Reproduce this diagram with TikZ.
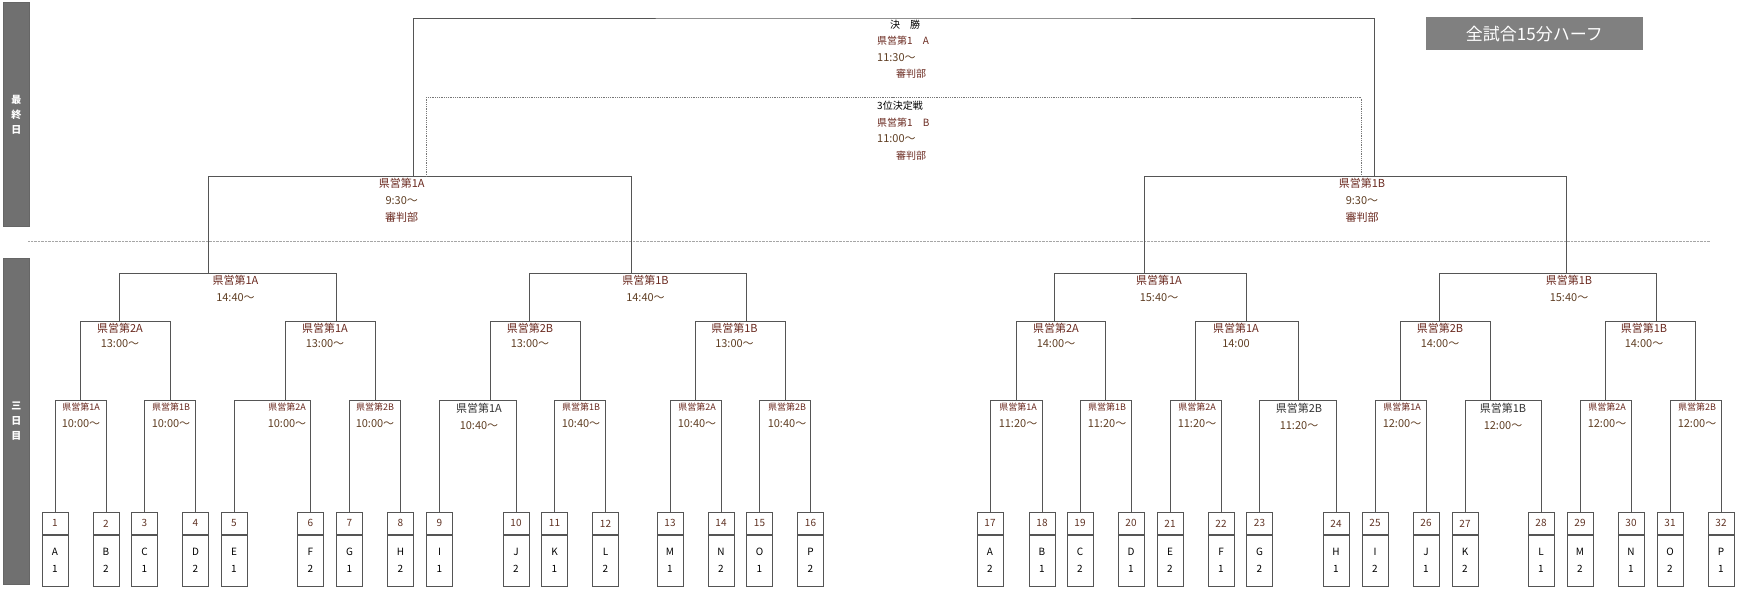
\documentclass[tikz,border=0pt]{standalone}
\usepackage{fontspec}
\setmainfont{Noto Sans CJK JP}
\usepackage{xcolor}
\usepackage{tikz}
\usetikzlibrary{positioning}

\definecolor{wirecol}{RGB}{85,85,85}
\definecolor{lblcol}{RGB}{105,40,30}
\definecolor{timecol}{RGB}{95,62,35}
\definecolor{numcol}{RGB}{95,50,35}
\definecolor{barcol}{RGB}{112,112,112}
\newcommand{\tm}[1]{{\fontsize{11}{17}\selectfont\color{timecol}#1}}

\begin{document}
\begin{tikzpicture}[x=1pt, y=-1pt,
        wire/.style={draw=wirecol, line width=0.8pt},
        third/.style={draw=wirecol!80, line width=0.8pt, densely dotted},
        lbl/.style={inner sep=0pt, anchor=north, align=center, text=lblcol, font=\fontsize{9}{17}\selectfont},
        lblmid/.style={lbl, font=\fontsize{11}{17}\selectfont},
        lblbig/.style={lbl, text=black!80, font=\fontsize{11}{17}\selectfont},
        numbox/.style={draw=wirecol, line width=0.8pt, minimum width=26pt, minimum height=22pt, inner sep=0pt, anchor=north, text=numcol, font=\fontsize{10}{12}\selectfont},
        namebox/.style={draw=wirecol, line width=0.8pt, minimum width=26pt, minimum height=51pt, inner sep=0pt, anchor=north, align=center, font=\fontsize{10}{17}\selectfont},
        sidebar/.style={fill=barcol, draw=black!60, line width=0.8pt, text=white, align=center, anchor=north west, minimum width=26pt, font=\bfseries\fontsize{10}{15}\selectfont}]

        \useasboundingbox (0,0) rectangle (1742,589);

        % day bars
        \node[sidebar, minimum height=224pt] (lastday) at (3,2) {最\\終\\日};
        \node[sidebar, minimum height=326pt] (thirdday) at (3,258) {三\\日\\目};
        \draw[densely dotted, black!35] (28,240.7) -- (1710,240.7);

        \node[fill=black!50, text=white, minimum width=217pt, minimum height=33pt, inner sep=0pt, anchor=north west, font=\fontsize{17}{20}\selectfont] (rule) at (1425.6,17) {全試合15分ハーフ};

        % teams
        \foreach \i/\x/\t/\r in {1/55/A/1, 2/106/B/2, 3/144.5/C/1, 4/195.5/D/2, 5/234/E/1, 6/310.5/F/2, 7/349.5/G/1, 8/400.5/H/2,
                9/439.5/I/1, 10/516/J/2, 11/554.5/K/1, 12/605.5/L/2, 13/670/M/1, 14/721/N/2, 15/759.5/O/1, 16/810.5/P/2,
                17/990/A/2, 18/1042/B/1, 19/1080/C/2, 20/1131/D/1, 21/1170/E/2, 22/1221/F/1, 23/1259.5/G/2, 24/1336/H/1,
                25/1375/I/2, 26/1426/J/1, 27/1465/K/2, 28/1541/L/1, 29/1580/M/2, 30/1631/N/1, 31/1670/O/2, 32/1721/P/1} {
            \node[numbox] (n\i) at (\x,512) {\i};
            \node[namebox] (t\i) at (n\i.south) {\t\\\r};
        }

        % first round
        \foreach \m/\l/\r/\x in {a1/1/2/80, a2/3/4/170.5, a3/5/6/285, a4/7/8/375.5, a5/9/10/490.7, a6/11/12/580, a7/13/14/695.5, a8/15/16/785.5,
                c1/17/18/1016, c2/19/20/1105.7, c3/21/22/1195.7, c4/23/24/1298.3, e1/25/26/1400, e2/27/28/1490, e3/29/30/1605.3, e4/31/32/1695.7} {
            \coordinate (\m) at (\x,400.7);
            \draw[wire] (n\l.north) |- (\m) -| (n\r.north);
        }
        \foreach \m/\x/\nm/\t/\s in {a1/81/県営第1A/10:00～/lbl, a2/171/県営第1B/10:00～/lbl, a3/287/県営第2A/10:00～/lbl, a4/375/県営第2B/10:00～/lbl,
                a5/479/県営第1A/10:40～/lblbig, a6/581/県営第1B/10:40～/lbl, a7/697/県営第2A/10:40～/lbl, a8/787/県営第2B/10:40～/lbl,
                c1/1018/県営第1A/11:20～/lbl, c2/1107/県営第1B/11:20～/lbl, c3/1197/県営第2A/11:20～/lbl, c4/1299/県営第2B/11:20～/lblbig,
                e1/1402/県営第1A/12:00～/lbl, e2/1503/県営第1B/12:00～/lblbig, e3/1607/県営第2A/12:00～/lbl, e4/1697/県営第2B/12:00～/lbl} {
            \node[\s] (l\m) at (\x,403) {\nm\\\tm{\t}};
        }

        % second round
        \foreach \m/\l/\r/\x in {b1/a1/a2/119, b2/a3/a4/336.7, b3/a5/a6/529, b4/a7/a8/746.7,
                d1/c1/c2/1054.3, d2/c3/c4/1246.7, f1/e1/e2/1439, f2/e3/e4/1656.7} {
            \coordinate (\m) at (\x,321.7);
            \draw[wire] (\l) |- (\m) -| (\r);
        }
        \foreach \m/\x/\nm/\t in {b1/120/県営第2A/13:00～, b2/325/県営第1A/13:00～, b3/530/県営第2B/13:00～, b4/734.5/県営第1B/13:00～,
                d1/1056/県営第2A/14:00～, d2/1236/県営第1A/14:00, f1/1440/県営第2B/14:00～, f2/1644/県営第1B/14:00～} {
            \node[lblmid, font=\fontsize{11}{15}\selectfont] (l\m) at (\x,323) {\nm\\\tm{\t}};
        }

        % third round
        \foreach \m/\l/\r/\x in {g1/b1/b2/208.5, g2/b3/b4/631, g3/d1/d2/1144, g4/f1/f2/1566.7} {
            \coordinate (\m) at (\x,273.3);
            \draw[wire] (\l) |- (\m) -| (\r);
        }
        \foreach \m/\x/\nm/\t in {g1/235.5/県営第1A/14:40～, g2/645.5/県営第1B/14:40～, g3/1159/県営第1A/15:40～, g4/1569/県営第1B/15:40～} {
            \node[lblmid] (l\m) at (\x,275) {\nm\\\tm{\t}};
        }

        % last day
        \coordinate (s1) at (413.3,176.7);
        \coordinate (s2) at (1374.4,176.7);
        \draw[wire] (g1) |- (s1) -| (g2);
        \draw[wire] (g3) |- (s2) -| (g4);
        \node[lblmid] (ls1) at (401.7,178.5) {県営第1A\\\tm{9:30～}\\審判部};
        \node[lblmid] (ls2) at (1362,178.5) {県営第1B\\\tm{9:30～}\\審判部};

        \coordinate (fin) at (893,18);
        \draw[wire] (s1) |- (fin) -| (s2);
        \coordinate (s1b) at (426,176.7);
        \coordinate (s2b) at (1361.3,176.7);
        \coordinate (bronze) at (893,97.7);
        \draw[third] (s1b) |- (bronze) -| (s2b);

        \node[lbl, anchor=north west, align=left, font=\fontsize{10}{16.5}\selectfont] (lfin) at (877,19.5)
            {\hspace*{13pt}{\color{black}決\hspace{10pt}勝}\\県営第1　A\\\tm{11:30～}\\\hspace*{19pt}審判部};
        \node[lbl, anchor=north west, align=left, font=\fontsize{10}{16.5}\selectfont] (lbronze) at (877,101)
            {{\color{black}3位決定戦}\\県営第1　B\\\tm{11:00～}\\\hspace*{19pt}審判部};
      \end{tikzpicture}
\end{document}
